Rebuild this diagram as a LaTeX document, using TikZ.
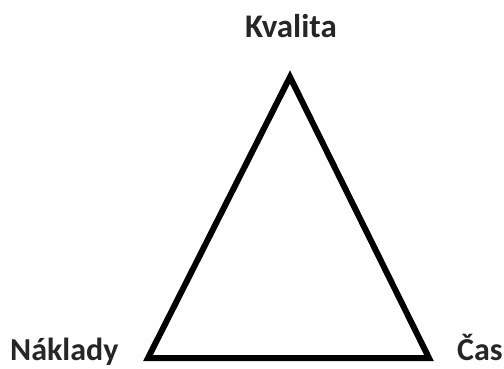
\documentclass[tikz,border=0pt]{standalone}
\usepackage{fontspec}
\setmainfont{Carlito}
\usetikzlibrary{positioning}

\begin{document}
\begin{tikzpicture}[x=1pt, y=1pt, every node/.style={inner sep=0pt, font=\fontsize{32}{38}\selectfont\bfseries, text=black!85}]

        \useasboundingbox (0, 0) rectangle (504, 368);

        \coordinate (apex) at (290, 291);
        \coordinate (left) at (148, 10);
        \coordinate (right) at (429, 10);

        \node[anchor=base, font=\fontsize{33}{38}\selectfont\bfseries] (kvalita) at (291, 331) {Kvalita};
        \node[anchor=base west] (naklady) at (10, 8) {Náklady};
        \node[anchor=base west] (cas) at (457, 8) {Čas};

        \draw[line width=6pt, line join=miter] (left) -- (right) -- (apex) -- cycle;

      \end{tikzpicture}
\end{document}
